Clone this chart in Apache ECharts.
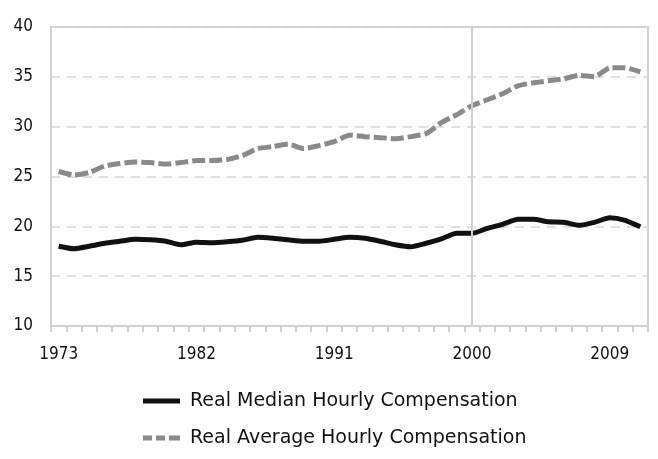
<!DOCTYPE html>
<html>
<head>
<meta charset="utf-8">
<script src="https://cdn.jsdelivr.net/npm/echarts@6/dist/echarts.min.js"></script>
<style>html,body{margin:0;padding:0;background:#fff}#c{width:658px;height:459px}</style>
</head>
<body>
<div id="c"></div>
<script>
var years = [];
for (var y = 1973; y <= 2011; y++) years.push(String(y));
var tickLabels = ['1973', '1982', '1991', '2000', '2009'];
var medianComp = [18.0, 17.75, 18.0, 18.3, 18.5, 18.7, 18.65, 18.5, 18.15, 18.4, 18.35, 18.45, 18.6,
  18.9, 18.8, 18.65, 18.5, 18.5, 18.7, 18.9, 18.8, 18.5, 18.15, 17.95, 18.3, 18.75, 19.3, 19.3,
  19.8, 20.2, 20.7, 20.7, 20.45, 20.4, 20.1, 20.4, 20.85, 20.6, 19.95];
var averageComp = [25.5, 25.15, 25.4, 26.05, 26.3, 26.45, 26.4, 26.25, 26.4, 26.6, 26.6, 26.7, 27.1,
  27.8, 28.0, 28.25, 27.8, 28.1, 28.5, 29.15, 29.0, 28.9, 28.8, 29.0, 29.3, 30.4, 31.2, 32.1,
  32.7, 33.3, 34.1, 34.4, 34.6, 34.8, 35.15, 35.0, 35.9, 35.9, 35.5];
var seriesNames = ['Real Median Hourly Compensation', 'Real Average Hourly Compensation'];
var FONT = 'DejaVu Sans Condensed';
var chart = echarts.init(document.getElementById('c'));
chart.setOption({
  animation: false,
  textStyle: { fontFamily: FONT },
  grid: { left: 51, right: 10, top: 27, bottom: 133, show: true, borderColor: '#d0d0d0', borderWidth: 2 },
  legend: {
    orient: 'vertical', left: 143, top: 390, padding: 0,
    itemWidth: 37, itemHeight: 5, itemGap: 15,
    textStyle: { fontFamily: 'DejaVu Sans', fontSize: 19, color: '#111', padding: [0, 0, 0, 5], lineHeight: 22 },
    data: [
      { name: seriesNames[0], icon: 'path://M0,0H37V5H0Z', itemStyle: { color: '#111' } },
      { name: seriesNames[1], icon: 'path://M0,0H9V5H0Z M13,0H22V5H13Z M26,0H37V5H26Z', itemStyle: { color: '#8a8a8a' } }
    ]
  },
  xAxis: {
    type: 'category', data: years, boundaryGap: true,
    axisLine: { lineStyle: { color: '#d0d0d0', width: 2 } },
    axisTick: { show: true, length: 6, interval: 0, lineStyle: { color: '#d0d0d0', width: 2 } },
    axisLabel: {
      interval: 0, margin: 20, fontSize: 17, color: '#111', fontFamily: FONT,
      formatter: function (v) { return tickLabels.indexOf(v) >= 0 ? v : ''; }
    },
    splitLine: { show: false }
  },
  yAxis: {
    type: 'value', min: 10, max: 40, interval: 5,
    axisLine: { show: true, lineStyle: { color: '#d0d0d0', width: 2 } },
    axisTick: { show: false },
    axisLabel: { margin: 18, fontSize: 17, color: '#111', fontFamily: FONT },
    splitLine: { lineStyle: { color: '#d6d6d6', type: [9, 7], width: 1.5 } }
  },
  series: [
    {
      name: seriesNames[0], type: 'line', data: medianComp, symbol: 'none', smooth: 0.2,
      lineStyle: { color: '#111', width: 5 }, itemStyle: { color: '#111' },
      markLine: {
        silent: true, symbol: 'none', label: { show: false },
        lineStyle: { color: '#cfcfcf', type: 'solid', width: 2 },
        data: [{ xAxis: '2000' }]
      },
      z: 3
    },
    {
      name: seriesNames[1], type: 'line', data: averageComp, symbol: 'none', smooth: 0.2,
      lineStyle: { color: '#8a8a8a', width: 5, type: [13, 4] }, itemStyle: { color: '#8a8a8a' },
      z: 3
    }
  ]
});
</script>
</body>
</html>
